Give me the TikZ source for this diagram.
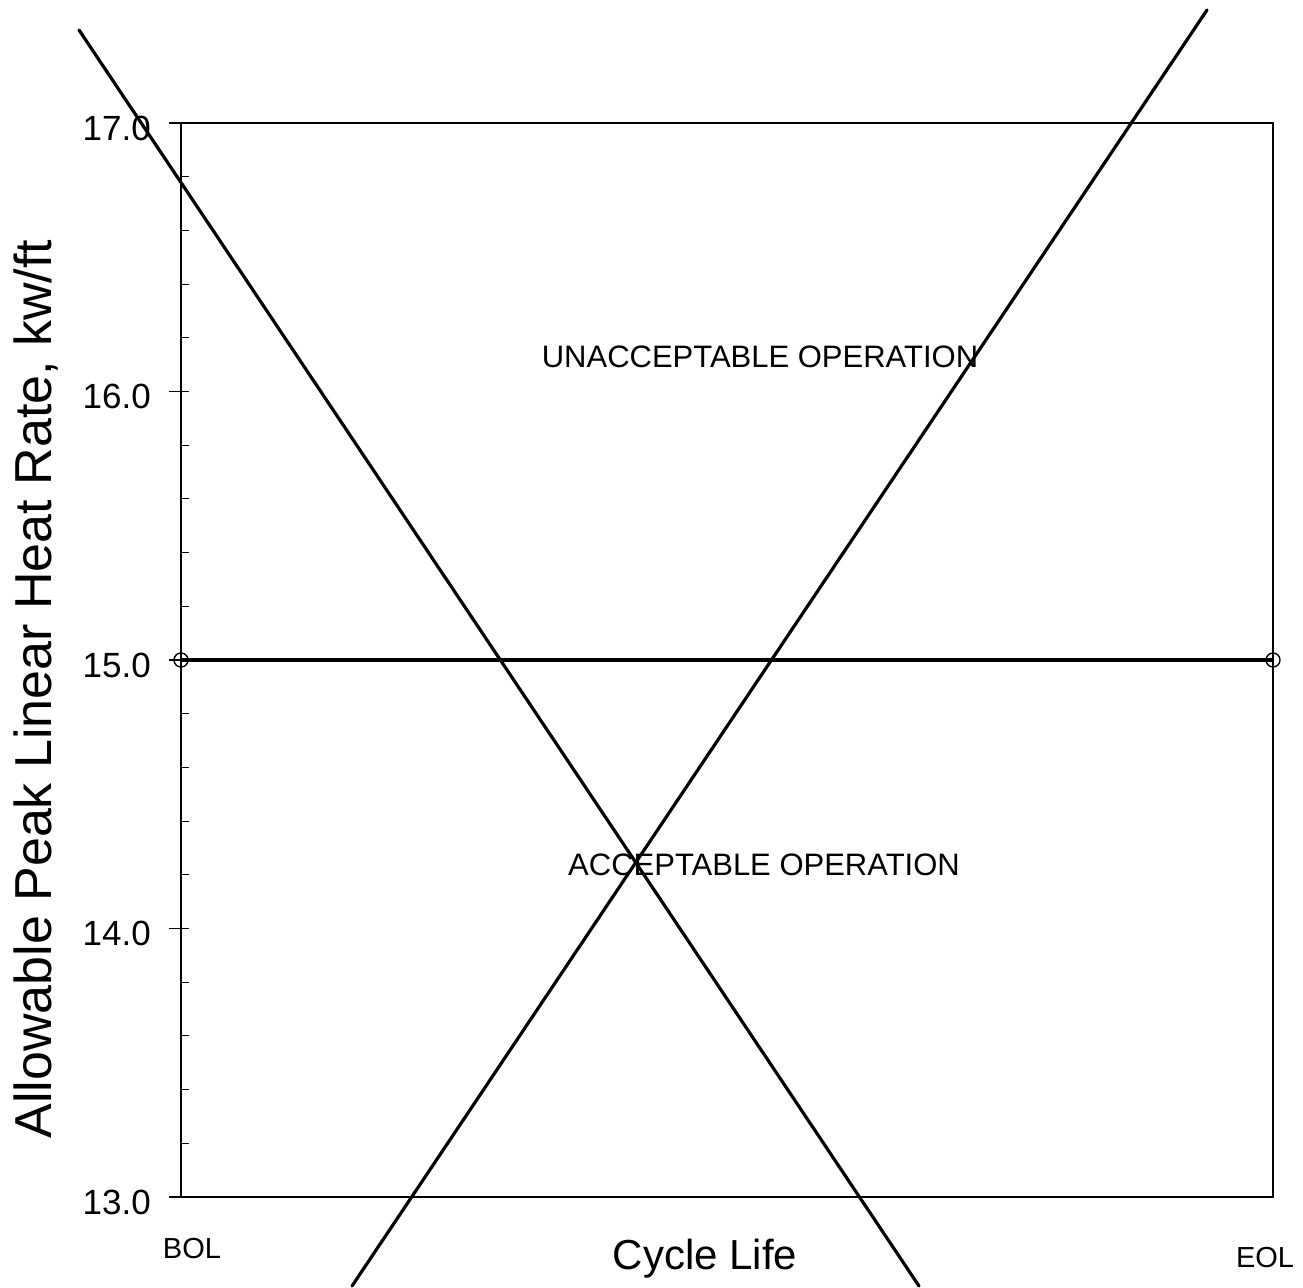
\documentclass[tikz,border=0pt]{standalone}
\usepackage{fontspec}
\setmainfont{Liberation Sans}
\tikzset{
	ticklab/.style={anchor=base east, inner sep=0pt, font=\fontsize{35}{40}\selectfont},
	endlab/.style={anchor=base, inner sep=0pt, font=\fontsize{29}{34}\selectfont},
	regionlab/.style={anchor=base, inner sep=0pt, font=\fontsize{31}{36}\selectfont},
	axislab/.style={anchor=base, inner sep=0pt, font=\fontsize{42}{48}\selectfont},
	limitline/.style={line width=3.2pt},
	endmark/.style={circle, draw, line width=1.4pt, minimum size=14pt, inner sep=0pt},
}

\begin{document}
\begin{tikzpicture}[x=1pt, y=-1pt]
		\useasboundingbox (0,0) rectangle (1303,1287);
		\coordinate (ll) at (181,1197);
		\coordinate (ur) at (1273,123);
		\draw[line width=2pt] (ll) rectangle (ur);
		\foreach \v in {1,...,19}
			\draw[line width=1pt] (181,{123+\v*53.7}) -- +(8,0);
		\foreach \v/\t in {0/17.0, 1/16.0, 2/15.0, 3/14.0, 4/13.0} {
			\draw[line width=1.5pt] (169,{123+\v*268.5}) -- +(12,0);
			\node[ticklab] (tick\v) at (151,{140+\v*268.5}) {\t};
		}
		\node[endmark] (bol) at (181,660) {};
		\node[endmark] (eol) at (1273,660) {};
		\draw[limitline, line width=4pt] (bol.center) -- (eol.center);
		\coordinate (fallstart) at (79,30);
		\coordinate (fallend) at (919,1286);
		\coordinate (risestart) at (352,1286);
		\coordinate (riseend) at (1207,10);
		\draw[limitline, line cap=round] (fallstart) -- (fallend);
		\draw[limitline, line cap=round] (risestart) -- (riseend);
		\node[regionlab] (unacc) at (760,367) {UNACCEPTABLE OPERATION};
		\node[regionlab] (acc) at (764,875) {ACCEPTABLE OPERATION};
		\node[endlab] (bollab) at (192,1258) {BOL};
		\node[endlab] (eollab) at (1265,1267) {EOL};
		\node[axislab] (xlab) at (705,1269) {Cycle Life};
		\node[axislab, rotate=90, font=\fontsize{52}{58}\selectfont] (ylab) at (51,689) {Allowable Peak Linear Heat Rate, kw/ft};
	\end{tikzpicture}
\end{document}
